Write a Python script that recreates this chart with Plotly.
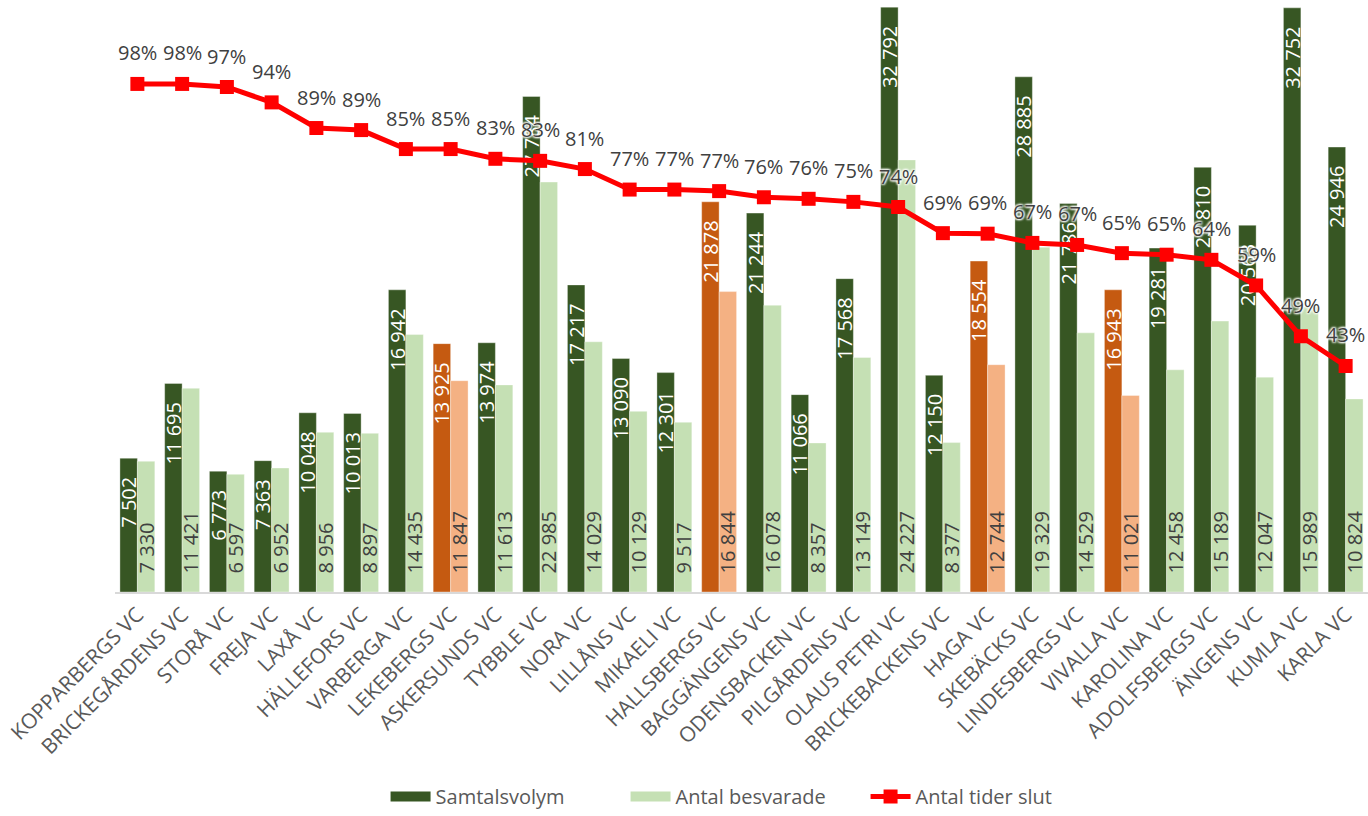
import plotly.graph_objects as go

categories = ["KOPPARBERGS VC", "BRICKEGÅRDENS VC", "STORÅ VC", "FREJA VC", "LAXÅ VC",
              "HÄLLEFORS VC", "VARBERGA VC", "LEKEBERGS VC", "ASKERSUNDS VC", "TYBBLE VC",
              "NORA VC", "LILLÅNS VC", "MIKAELI VC", "HALLSBERGS VC", "BAGGÄNGENS VC",
              "ODENSBACKEN VC", "PILGÅRDENS VC", "OLAUS PETRI VC", "BRICKEBACKENS VC", "HAGA VC",
              "SKEBÄCKS VC", "LINDESBERGS VC", "VIVALLA VC", "KAROLINA VC", "ADOLFSBERGS VC",
              "ÄNGENS VC", "KUMLA VC", "KARLA VC"]

samtalsvolym = [7502, 11695, 6773, 7363, 10048, 10013, 16942, 13925, 13974, 27784,
                17217, 13090, 12301, 21878, 21244, 11066, 17568, 32792, 12150, 18554,
                28885, 21786, 16943, 19281, 23810, 20563, 32752, 24946]

antal_besvarade = [7330, 11421, 6597, 6952, 8956, 8897, 14435, 11847, 11613, 22985,
                   14029, 10129, 9517, 16844, 16078, 8357, 13149, 24227, 8377, 12744,
                   19329, 14529, 11021, 12458, 15189, 12047, 15989, 10824]

tider_slut = [0.98, 0.98, 0.974, 0.944, 0.894, 0.89, 0.853, 0.853, 0.834, 0.83,
              0.814, 0.774, 0.774, 0.771, 0.759, 0.756, 0.75, 0.74, 0.689, 0.688,
              0.67, 0.666, 0.65, 0.647, 0.637, 0.587, 0.488, 0.43]

highlighted = ["LEKEBERGS VC", "HALLSBERGS VC", "HAGA VC", "VIVALLA VC"]

series_names = ["Samtalsvolym", "Antal besvarade", "Antal tider slut"]

DARK_GREEN = "#375623"
LIGHT_GREEN = "#C5E0B4"
DARK_ORANGE = "#C55A11"
LIGHT_ORANGE = "#F4B183"
RED = "#FF0000"
FONT = "Open Sans"
TXT = "#404040"

dark_colors = [DARK_ORANGE if c in highlighted else DARK_GREEN for c in categories]
light_colors = [LIGHT_ORANGE if c in highlighted else LIGHT_GREEN for c in categories]

NB = "\u00a0"

fig = go.Figure()
fig.add_trace(go.Bar(
    x=categories, y=samtalsvolym, name=series_names[0], showlegend=False,
    marker=dict(color=dark_colors, line=dict(color="rgba(255,255,255,0.6)", width=0.6)),
    texttemplate="%{y:,}" + NB * 3, textposition="inside", insidetextanchor="end",
    textangle=-90, constraintext="none",
    textfont=dict(family=FONT, size=20, color="white"),
))
fig.add_trace(go.Bar(
    x=categories, y=antal_besvarade, name=series_names[1], showlegend=False,
    marker=dict(color=light_colors, line=dict(color="rgba(255,255,255,0.6)", width=0.6)),
    texttemplate=NB * 3 + "%{y:,}", textposition="inside", insidetextanchor="start",
    textangle=-90, constraintext="none",
    textfont=dict(family=FONT, size=20, color=TXT),
))
fig.add_trace(go.Scatter(
    x=categories, y=tider_slut, name=series_names[2], yaxis="y2",
    mode="lines+markers", showlegend=False,
    line=dict(color=RED, width=5),
    marker=dict(symbol="square", size=14, color=RED),
))

# legend-only entries (wide swatches like the original)
fig.add_trace(go.Scatter(x=[None], y=[None], name=series_names[0], mode="lines",
                         line=dict(color=DARK_GREEN, width=15), legendrank=1))
fig.add_trace(go.Scatter(x=[None], y=[None], name=series_names[1], mode="lines",
                         line=dict(color=LIGHT_GREEN, width=15), legendrank=2))
fig.add_trace(go.Scatter(x=[None], y=[None], name=series_names[2], mode="lines+markers",
                         line=dict(color=RED, width=5),
                         marker=dict(symbol="square", size=14, color=RED), legendrank=3))

annotations = []
for c, v in zip(categories, tider_slut):
    annotations.append(dict(
        x=c, y=v, xref="x", yref="y2", text=f"{round(v*100)}%",
        showarrow=False, yshift=31,
        font=dict(family=FONT, size=20, color=TXT,
                  shadow="1px 1px 2px white, -1px -1px 2px white, 1px -1px 2px white, -1px 1px 2px white"),
    ))

fig.update_layout(
    width=1368, height=816,
    margin=dict(l=115, r=0, t=7, b=224, autoexpand=False),
    paper_bgcolor="white", plot_bgcolor="white",
    separators=", ",
    barmode="group", bargap=0.22, bargroupgap=0,
    font=dict(family=FONT, color="#595959"),
    xaxis=dict(tickangle=-45, tickfont=dict(family=FONT, size=21, color="#595959"),
               showline=True, linecolor="#D9D9D9", linewidth=2, ticks="",
               showgrid=False, automargin=False,
               range=[-0.5, len(categories) - 0.5], autorange=False),
    yaxis=dict(range=[0, 32800], visible=False, showgrid=False, automargin=False),
    yaxis2=dict(range=[-0.0107, 1.13], overlaying="y", side="right", visible=False,
                showgrid=False, automargin=False),
    legend=dict(orientation="h", x=0.545, xanchor="center", xref="container",
                y=-0.004, yanchor="bottom", yref="container",
                font=dict(family=FONT, size=20, color="#595959"),
                itemwidth=40, traceorder="normal",
                entrywidth=185, entrywidthmode="pixels"),
    annotations=annotations,
    showlegend=True,
)

fig.write_html("out.html",
               config={"displayModeBar": False},
               post_script="document.body.style.margin='0';document.body.style.overflow='hidden';")
